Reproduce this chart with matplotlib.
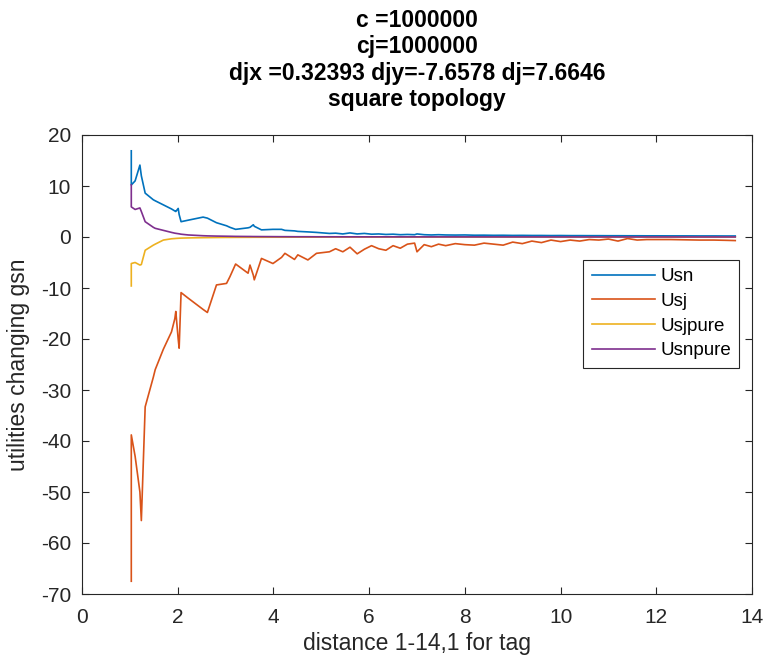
import matplotlib
matplotlib.use("Agg")
import matplotlib.pyplot as plt
import numpy as np

plt.rcParams['font.family'] = ['Liberation Sans', 'DejaVu Sans']
plt.rcParams['axes.unicode_minus'] = False

# ---- data ----
distance = [1.03, 1.03, 1.11, 1.21, 1.24, 1.32, 1.49, 1.53, 1.70, 1.87,
            1.94, 1.96, 2.01, 2.03, 2.07, 2.22, 2.53, 2.62, 2.81, 3.02,
            3.09, 3.21, 3.47, 3.51, 3.58, 3.60, 3.75, 3.99, 4.17, 4.24,
            4.44, 4.51, 4.72, 4.90, 5.17,
            5.30, 5.45, 5.60, 5.75, 5.90, 6.05, 6.20, 6.35, 6.50, 6.65,
            6.80, 6.95, 7.00, 7.15, 7.30, 7.45, 7.60, 7.80, 8.00, 8.20,
            8.40, 8.60, 8.80, 9.00, 9.20, 9.40, 9.60, 9.80, 10.00, 10.20,
            10.40, 10.60, 10.80, 11.00, 11.20, 11.40, 11.60, 11.80, 12.00, 12.30,
            12.60, 12.90, 13.20, 13.45, 13.65]

Usn = [16.9, 10.2, 11.0, 14.1, 12.0, 8.6, 7.3, 7.1, 6.3, 5.5,
       5.1, 5.0, 5.6, 4.4, 3.0, 3.3, 3.9, 3.7, 2.8, 2.2,
       1.9, 1.5, 1.8, 1.9, 2.4, 2.1, 1.4, 1.5, 1.5, 1.3,
       1.2, 1.1, 1.0, 0.9, 0.7,
       0.75, 0.6, 0.8, 0.6, 0.7, 0.55, 0.6, 0.5, 0.55, 0.45,
       0.5, 0.45, 0.6, 0.45, 0.4, 0.45, 0.4, 0.38, 0.4, 0.35,
       0.36, 0.33, 0.34, 0.31, 0.32, 0.3, 0.3, 0.28, 0.29, 0.27,
       0.27, 0.26, 0.26, 0.25, 0.25, 0.24, 0.24, 0.23, 0.23, 0.22,
       0.22, 0.21, 0.21, 0.2, 0.2]

Usj = [-67.5, -38.8, -43.0, -50.0, -55.6, -33.3, -27.5, -26.0, -22.0, -18.6,
       -16.0, -14.6, -20.0, -21.8, -10.9, -12.0, -14.2, -14.8, -9.4, -9.1,
       -7.8, -5.3, -7.1, -5.5, -7.5, -8.4, -4.2, -5.2, -4.0, -3.2,
       -4.4, -3.5, -4.5, -3.2, -2.9,
       -2.3, -2.9, -2.0, -3.3, -2.4, -1.7, -2.3, -2.6, -1.7, -2.2,
       -1.4, -1.2, -2.9, -1.5, -1.9, -1.4, -1.7, -1.3, -1.5, -1.6,
       -1.2, -1.4, -1.6, -1.0, -1.3, -0.8, -1.1, -0.6, -0.9, -0.6,
       -0.8, -0.5, -0.6, -0.4, -0.8, -0.3, -0.6, -0.5, -0.5, -0.5,
       -0.55, -0.6, -0.6, -0.65, -0.7]

Usjpure = [-9.6, -5.2, -5.0, -5.5, -5.4, -2.6, -1.6, -1.4, -0.6, -0.35,
           -0.3, -0.28, -0.25, -0.24, -0.22, -0.18, -0.13, -0.12, -0.1, -0.08,
           -0.08, -0.07, -0.06, -0.06, -0.05, -0.05, -0.05, -0.04, -0.04, -0.04,
           -0.03, -0.03, -0.03, -0.03, -0.02,
           -0.02, -0.02, -0.02, -0.02, -0.02, -0.02, -0.02, -0.02, -0.015, -0.015,
           -0.015, -0.015, -0.015, -0.015, -0.015, -0.015, -0.012, -0.012, -0.012, -0.012,
           -0.012, -0.01, -0.01, -0.01, -0.01, -0.01, -0.01, -0.01, -0.01, -0.01,
           -0.008, -0.008, -0.008, -0.008, -0.008, -0.008, -0.008, -0.008, -0.007, -0.007,
           -0.007, -0.006, -0.006, -0.006, -0.006]

Usnpure = [10.2, 5.9, 5.4, 5.7, 5.0, 3.0, 1.9, 1.7, 1.3, 0.9,
           0.75, 0.72, 0.65, 0.62, 0.55, 0.4, 0.25, 0.22, 0.18, 0.15,
           0.14, 0.12, 0.1, 0.1, 0.09, 0.09, 0.08, 0.07, 0.06, 0.06,
           0.05, 0.05, 0.05, 0.04, 0.04,
           0.04, 0.035, 0.035, 0.035, 0.03, 0.03, 0.03, 0.03, 0.028, 0.028,
           0.026, 0.026, 0.026, 0.025, 0.025, 0.024, 0.024, 0.023, 0.022, 0.022,
           0.021, 0.02, 0.02, 0.019, 0.019, 0.018, 0.018, 0.017, 0.017, 0.016,
           0.016, 0.015, 0.015, 0.015, 0.014, 0.014, 0.014, 0.013, 0.013, 0.013,
           0.012, 0.012, 0.012, 0.011, 0.011]

series_names = ['Usn', 'Usj', 'Usjpure', 'Usnpure']
series_colors = ['#0072BD', '#D95319', '#EDB120', '#7E2F8E']

title_text = 'c =1000000\ncj=1000000\ndjx =0.32393 djy=-7.6578 dj=7.6646\nsquare topology'
x_label = 'distance 1-14,1 for tag'
y_label = 'utilities changing gsn'

# ---- figure ----
fig = plt.figure(figsize=(7.63, 6.61), dpi=100)
ax = fig.add_axes([82 / 763, 1 - 594 / 661, 670 / 763, 459 / 661])

for vals, name, col in zip([Usn, Usj, Usjpure, Usnpure], series_names, series_colors):
    ax.plot(distance, vals, color=col, lw=1.2, label=name)

ax.set_xlim(0, 14)
ax.set_ylim(-70, 20)
ax.set_xticks(np.arange(0, 15, 2))
ax.set_yticks(np.arange(-70, 21, 10))

axis_grey = '#262626'
for sp in ax.spines.values():
    sp.set_color(axis_grey)
    sp.set_linewidth(0.8)
ax.tick_params(direction='in', top=True, right=True, length=5, width=0.8,
               colors=axis_grey, labelsize=15)
ax.tick_params(axis='x', pad=10)
ax.tick_params(axis='y', pad=8)

ax.set_xlabel(x_label, fontsize=16.5, color=axis_grey, labelpad=4)
ax.set_ylabel(y_label, fontsize=16.5, color=axis_grey, labelpad=8)
ax.set_title(title_text, fontsize=16.5, fontweight='bold', color='black',
             linespacing=1.18, pad=21)

leg = ax.legend(loc='upper left', bbox_to_anchor=(0.748, 0.728), fontsize=13.5,
                handlelength=3.4, labelspacing=0.4, borderpad=0.45,
                handletextpad=0.25, fancybox=False, framealpha=1, borderaxespad=0)
leg.get_frame().set_edgecolor(axis_grey)
leg.get_frame().set_linewidth(0.8)

fig.savefig('out.png', dpi=100)
